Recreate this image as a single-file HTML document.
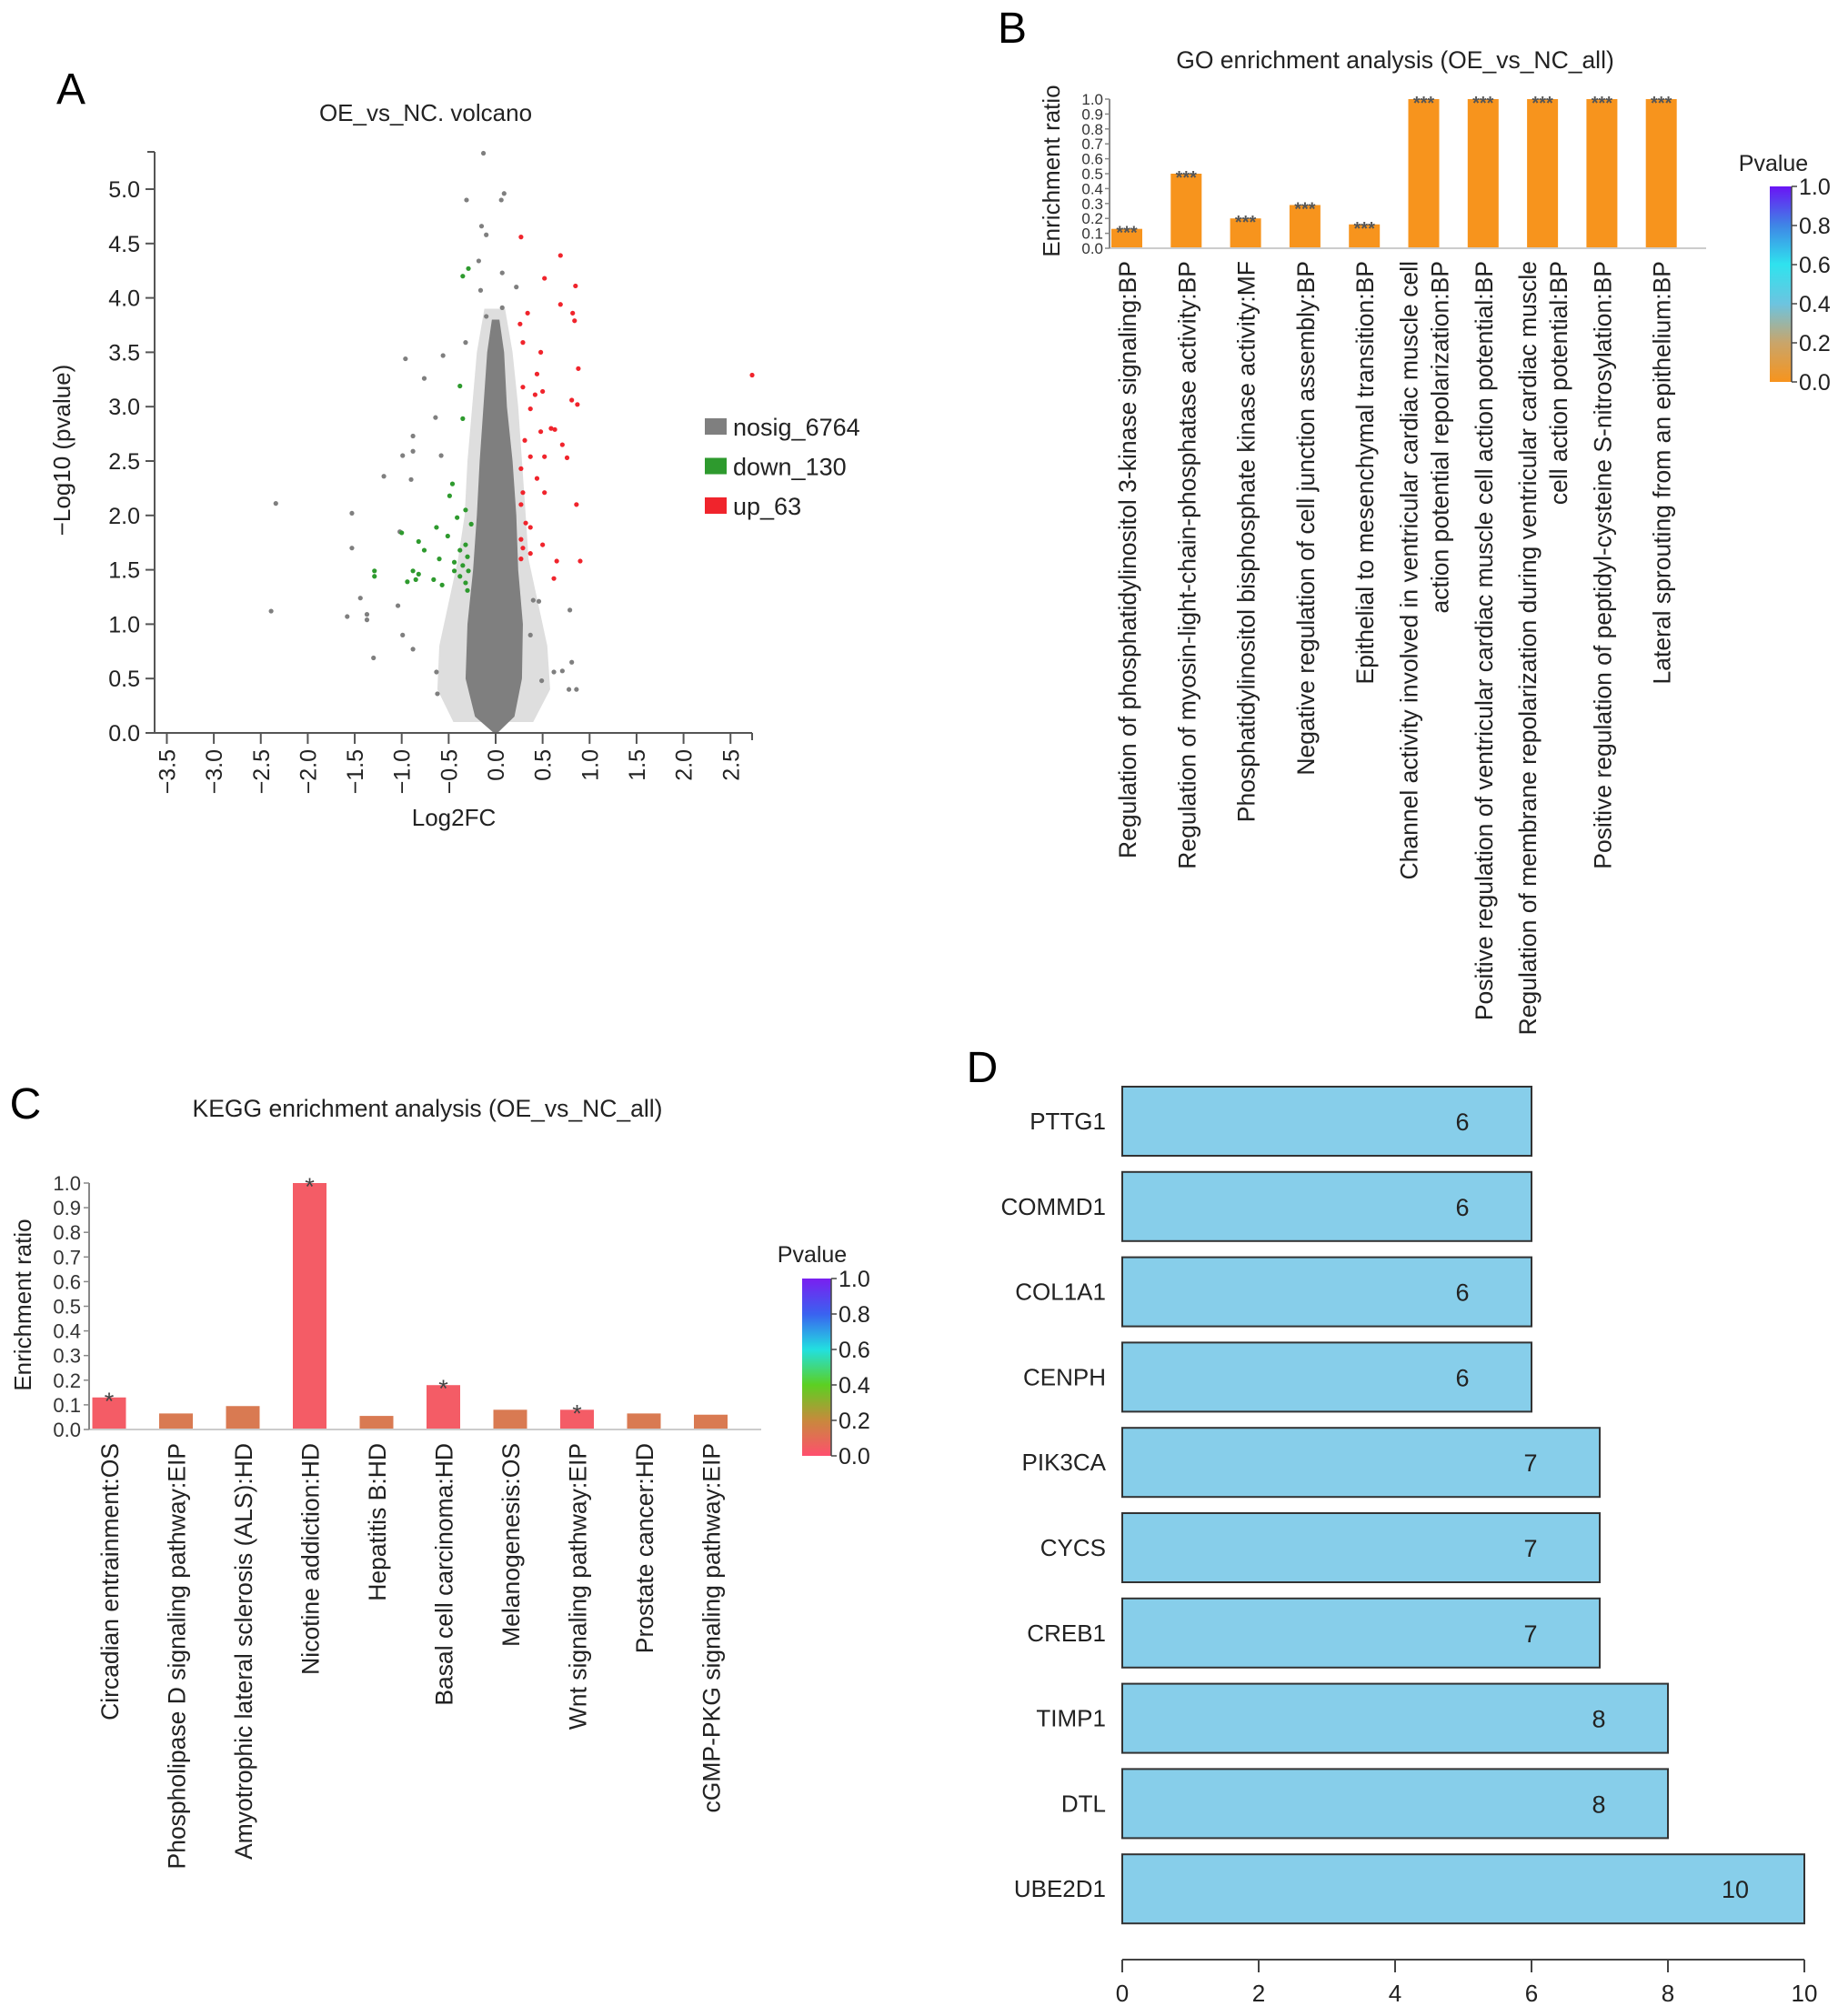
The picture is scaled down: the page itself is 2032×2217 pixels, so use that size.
<!DOCTYPE html>
<html><head><meta charset="utf-8"><style>
html,body{margin:0;padding:0;background:#fff}
svg{display:block;font-family:"Liberation Sans",Arial,sans-serif}
</style></head><body>
<svg id="fig" width="2032" height="2217" viewBox="0 0 2032 2217" xmlns="http://www.w3.org/2000/svg">
<defs>
<linearGradient id="gradB" x1="0" y1="1" x2="0" y2="0">
<stop offset="0" stop-color="#f7941d"/><stop offset="0.2" stop-color="#c9a56a"/><stop offset="0.4" stop-color="#6cc4e0"/><stop offset="0.6" stop-color="#2fe3ee"/><stop offset="0.8" stop-color="#3f86e6"/><stop offset="1" stop-color="#6a14f5"/>
</linearGradient>
<linearGradient id="gradC" x1="0" y1="1" x2="0" y2="0">
<stop offset="0" stop-color="#ff4f6e"/><stop offset="0.2" stop-color="#c8893c"/><stop offset="0.4" stop-color="#5cd022"/><stop offset="0.6" stop-color="#22e0e0"/><stop offset="0.8" stop-color="#3a62f0"/><stop offset="1" stop-color="#7a1ff0"/>
</linearGradient>
</defs>
</svg>
<script>
// ---------- Panel A data ----------
const upX=[0.27,0.69,0.52,0.85,0.69,0.34,0.26,0.82,0.84,0.29,0.48,0.88,0.44,0.29,0.5,0.42,0.81,0.87,0.37,0.59,0.63,0.31,0.48,0.71,0.37,0.52,0.76,0.27,0.44,0.29,0.52,0.27,0.86,0.32,0.37,0.27,0.5,0.29,0.37,0.27,0.65,0.9,0.62,2.73];
const upY=[4.56,4.39,4.18,4.11,3.94,3.86,3.76,3.86,3.79,3.59,3.5,3.35,3.3,3.18,3.14,3.11,3.06,3.02,2.98,2.8,2.79,2.69,2.77,2.65,2.54,2.54,2.53,2.43,2.34,2.21,2.21,2.1,2.1,1.93,1.89,1.78,1.73,1.7,1.65,1.6,1.58,1.58,1.42,3.29];
const downX=[-0.29,-0.35,-0.38,-0.35,-0.46,-0.49,-0.32,-0.41,-0.63,-0.26,-1.0,-0.82,-0.51,-0.32,-0.76,-0.38,-0.3,-0.6,-0.44,-0.35,-0.88,-0.82,-0.44,-1.29,-1.29,-0.94,-0.85,-0.66,-0.38,-0.32,-0.3,-0.57,-0.29];
const downY=[4.27,4.2,3.19,2.89,2.29,2.18,2.05,1.98,1.89,1.92,1.84,1.76,1.81,1.73,1.68,1.68,1.62,1.6,1.57,1.54,1.49,1.46,1.49,1.49,1.44,1.39,1.41,1.41,1.44,1.38,1.31,1.36,1.49];
const nosigX=[-0.13,-0.31,0.09,0.06,-0.15,-0.1,-0.18,0.07,-0.16,0.22,0.07,-0.1,-0.96,-0.56,-0.76,-0.32,-0.64,-0.88,-0.88,-0.99,-0.58,-1.19,-0.9,-2.34,-1.53,-1.53,-1.02,-1.44,-1.58,-1.37,-1.37,-2.39,-1.04,-0.99,-1.3,-0.88,-0.63,-0.62,0.79,0.4,0.46,0.81,0.78,0.86,0.62,0.49,0.37,0.71];
const nosigY=[5.33,4.9,4.96,4.9,4.66,4.58,4.34,4.23,4.07,4.1,3.91,3.83,3.44,3.47,3.26,3.59,2.9,2.73,2.59,2.55,2.55,2.36,2.33,2.11,2.02,1.7,1.85,1.24,1.07,1.09,1.04,1.12,1.17,0.9,0.69,0.77,0.56,0.36,1.13,1.22,1.21,0.65,0.4,0.4,0.56,0.48,0.9,0.57];
const coreLevels=[0,0.15,0.5,1.0,1.5,2.0,2.5,3.0,3.5,3.8];
const coreLeft=[-0.02,-0.22,-0.32,-0.3,-0.24,-0.2,-0.17,-0.13,-0.09,-0.04];
const coreRight=[0.02,0.2,0.28,0.29,0.24,0.22,0.18,0.12,0.09,0.04];
const haloLevels=[0.1,0.4,0.8,1.2,1.6,2.0,2.5,3.0,3.5,3.9];
const haloLeft=[-0.45,-0.62,-0.6,-0.5,-0.4,-0.33,-0.3,-0.25,-0.2,-0.12];
const haloRight=[0.4,0.58,0.55,0.45,0.35,0.32,0.28,0.24,0.18,0.1];
const volXTicks=["-3.5","-3.0","-2.5","-2.0","-1.5","-1.0","-0.5","0.0","0.5","1.0","1.5","2.0","2.5"];
const volYTicks=["0.0","0.5","1.0","1.5","2.0","2.5","3.0","3.5","4.0","4.5","5.0"];
const legendLabels=["nosig_6764","down_130","up_63"];
// ---------- Panel B data ----------
const goLabels=[["Regulation of phosphatidylinositol 3-kinase signaling:BP"],["Regulation of myosin-light-chain-phosphatase activity:BP"],["Phosphatidylinositol bisphosphate kinase activity:MF"],["Negative regulation of cell junction assembly:BP"],["Epithelial to mesenchymal transition:BP"],["Channel activity involved in ventricular cardiac muscle cell","action potential repolarization:BP"],["Positive regulation of ventricular cardiac muscle cell action potential:BP"],["Regulation of membrane repolarization during ventricular cardiac muscle","cell action potential:BP"],["Positive regulation of peptidyl-cysteine S-nitrosylation:BP"],["Lateral sprouting from an epithelium:BP"]];
const goValues=[0.13,0.5,0.2,0.29,0.16,1.0,1.0,1.0,1.0,1.0];
const goStars=["***","***","***","***","***","***","***","***","***","***"];
const ratioTicks=["0.0","0.1","0.2","0.3","0.4","0.5","0.6","0.7","0.8","0.9","1.0"];
const pTicks=["0.0","0.2","0.4","0.6","0.8","1.0"];
// ---------- Panel C data ----------
const keggLabels=["Circadian entrainment:OS","Phospholipase D signaling pathway:EIP","Amyotrophic lateral sclerosis (ALS):HD","Nicotine addiction:HD","Hepatitis B:HD","Basal cell carcinoma:HD","Melanogenesis:OS","Wnt signaling pathway:EIP","Prostate cancer:HD","cGMP-PKG signaling pathway:EIP"];
const keggValues=[0.13,0.065,0.095,1.0,0.055,0.18,0.08,0.08,0.065,0.06];
const keggP=[0.01,0.12,0.12,0.01,0.12,0.01,0.12,0.02,0.12,0.12];
const keggStars=["*","","","*","","*","","*","",""];
// ---------- Panel D data ----------
const genes=["PTTG1","COMMD1","COL1A1","CENPH","PIK3CA","CYCS","CREB1","TIMP1","DTL","UBE2D1"];
const degree=[6,6,6,6,7,7,7,8,8,10];
const degTicks=[0,2,4,6,8,10];

const svg=document.getElementById('fig');
const NS='http://www.w3.org/2000/svg';
function mk(tag,attrs,parent,text){const e=document.createElementNS(NS,tag);for(const k in attrs)e.setAttribute(k,attrs[k]);if(text!==undefined)e.textContent=text;(parent||svg).appendChild(e);return e;}
function grp(name){const g=mk('g',{});


return g;}

// ================= Panel A =================
const gA=grp('panel-a-volcano');
const vx=v=>545+103.3*v, vy=v=>806-119.6*v;
let t=mk('text',{x:78,y:114,'font-size':48,'text-anchor':'middle',fill:'#000'},gA,'A');

t=mk('text',{x:468,y:133,'font-size':26,'text-anchor':'middle',fill:'#222'},gA,'OE_vs_NC. volcano');

function env(levels,L,R){let pts=[];for(let i=0;i<levels.length;i++)pts.push(vx(L[i])+','+vy(levels[i]));for(let i=levels.length-1;i>=0;i--)pts.push(vx(R[i])+','+vy(levels[i]));return pts.join(' ');}
let p=mk('polygon',{points:env(haloLevels,haloLeft,haloRight),fill:'#8a8a8a','fill-opacity':0.28},gA);

p=mk('polygon',{points:env(coreLevels,coreLeft,coreRight),fill:'#7f7f7f'},gA);

function pts(X,Y,col,name){for(let i=0;i<X.length;i++){const c=mk('circle',{cx:vx(X[i]),cy:vy(Y[i]),r:2.6,fill:col},gA);

}}
pts(nosigX,nosigY,'#7f7f7f','nosig-point');
pts(downX,downY,'#2e9a2e','down-point');
pts(upX,upY,'#f0242c','up-point');
mk('line',{x1:170,y1:167,x2:170,y2:806,stroke:'#555','stroke-width':2},gA);
mk('line',{x1:170,y1:806,x2:827,y2:806,stroke:'#555','stroke-width':2},gA);
mk('line',{x1:162,y1:167,x2:170,y2:167,stroke:'#555','stroke-width':2},gA);
mk('line',{x1:827,y1:806,x2:827,y2:814,stroke:'#555','stroke-width':2},gA);
volYTicks.forEach(s=>{const y=vy(parseFloat(s));mk('line',{x1:160,y1:y,x2:170,y2:y,stroke:'#555','stroke-width':2},gA);
const tt=mk('text',{x:154,y:y+9,'font-size':25,'text-anchor':'end',fill:'#222'},gA,s);

});
volXTicks.forEach(s=>{const x=vx(parseFloat(s));mk('line',{x1:x,y1:806,x2:x,y2:818,stroke:'#555','stroke-width':2},gA);
const tt=mk('text',{x:0,y:0,'font-size':25,'text-anchor':'end',fill:'#222',transform:`translate(${x+9},824) rotate(-90)`},gA,s.replace('-','\u2212'));

});
t=mk('text',{x:0,y:0,'font-size':26,'text-anchor':'middle',fill:'#222',transform:'translate(77,495) rotate(-90)'},gA,'\u2212Log10 (pvalue)');

t=mk('text',{x:499,y:908,'font-size':26,'text-anchor':'middle',fill:'#222'},gA,'Log2FC');

const legCols=['#7f7f7f','#2e9a2e','#f0242c'];
legendLabels.forEach((s,i)=>{const y=469+i*43.5;
const r=mk('rect',{x:775,y:y-9,width:24,height:18,fill:legCols[i]},gA);


const tt=mk('text',{x:806,y:y+10,'font-size':27,fill:'#222'},gA,s);

});

// ================= Panel B =================
const gB=grp('panel-b-go-enrichment');
const bx0=1220,bxEnd=1876,by0=273,by1=109,bStep=65.3,bFirst=1239,bW=34;
const byS=v=>by0-(by0-by1)*v;
t=mk('text',{x:1113,y:47,'font-size':48,'text-anchor':'middle',fill:'#000'},gB,'B');

t=mk('text',{x:1534,y:75,'font-size':26.5,'text-anchor':'middle',fill:'#222'},gB,'GO enrichment analysis (OE_vs_NC_all)');

goValues.forEach((v,i)=>{const cx=bFirst+i*bStep;
const r=mk('rect',{x:cx-bW/2,y:byS(v),width:bW,height:by0-byS(v),fill:'#f7941d'},gB);


const s=mk('text',{x:cx,y:byS(v)+11,'font-size':20,'text-anchor':'middle',fill:'#555','font-weight':'bold'},gB,goStars[i]);


const lines=goLabels[i];const n=lines.length;
lines.forEach((ln,j)=>{const off=(j-(n-1)/2)*34;
const tt=mk('text',{x:0,y:0,'font-size':26.5,'text-anchor':'end',fill:'#222',transform:`translate(${cx+off+10},287) rotate(-90)`},gB,ln);

});});
mk('line',{x1:bx0,y1:by0,x2:bxEnd,y2:by0,stroke:'#ccc','stroke-width':2},gB);
mk('line',{x1:bx0,y1:by1,x2:bx0,y2:by0,stroke:'#888','stroke-width':2},gB);
ratioTicks.forEach(s=>{const y=byS(parseFloat(s));mk('line',{x1:bx0-5,y1:y,x2:bx0,y2:y,stroke:'#888','stroke-width':1.5},gB);
const tt=mk('text',{x:bx0-7,y:y+6,'font-size':17,'text-anchor':'end',fill:'#333'},gB,s);

});
t=mk('text',{x:0,y:0,'font-size':26,'text-anchor':'middle',fill:'#222',transform:'translate(1165,188) rotate(-90)'},gB,'Enrichment ratio');

const cbB={x:1946,w:24,top:205,bot:420};
let cb=mk('rect',{x:cbB.x,y:cbB.top,width:cbB.w,height:cbB.bot-cbB.top,fill:'url(#gradB)'},gB);

mk('line',{x1:cbB.x+cbB.w,y1:cbB.top,x2:cbB.x+cbB.w,y2:cbB.bot,stroke:'#444','stroke-width':1.5},gB);
pTicks.forEach(s=>{const y=cbB.bot-(cbB.bot-cbB.top)*parseFloat(s);mk('line',{x1:cbB.x+cbB.w,y1:y,x2:cbB.x+cbB.w+6,y2:y,stroke:'#444','stroke-width':1.5},gB);
const tt=mk('text',{x:cbB.x+cbB.w+8,y:y+9,'font-size':25,fill:'#222'},gB,s);

});
t=mk('text',{x:1950,y:188,'font-size':25,'text-anchor':'middle',fill:'#222'},gB,'Pvalue');


// ================= Panel C =================
const gC=grp('panel-c-kegg-enrichment');
const cx0=98,cxEnd=837,cy0=1572,cy1=1301,cStep=73.5,cFirst=120,cW=37;
const cyS=v=>cy0-(cy0-cy1)*v;
t=mk('text',{x:28,y:1230,'font-size':48,'text-anchor':'middle',fill:'#000'},gC,'C');

t=mk('text',{x:470,y:1228,'font-size':26.5,'text-anchor':'middle',fill:'#222'},gC,'KEGG enrichment analysis (OE_vs_NC_all)');

keggValues.forEach((v,i)=>{const cx=cFirst+i*cStep;const col=keggP[i]<0.05?'#f45c66':'#d97a52';
const r=mk('rect',{x:cx-cW/2,y:cyS(v),width:cW,height:cy0-cyS(v),fill:col},gC);


if(keggStars[i]){const s=mk('text',{x:cx,y:cyS(v)+13,'font-size':27,'text-anchor':'middle',fill:'#444'},gC,keggStars[i]);

}
const tt=mk('text',{x:0,y:0,'font-size':26.5,'text-anchor':'end',fill:'#222',transform:`translate(${cx+10},1587) rotate(-90)`},gC,keggLabels[i]);

});
mk('line',{x1:cx0,y1:cy0,x2:cxEnd,y2:cy0,stroke:'#ccc','stroke-width':2},gC);
mk('line',{x1:cx0,y1:cy1,x2:cx0,y2:cy0,stroke:'#888','stroke-width':2},gC);
ratioTicks.forEach(s=>{const y=cyS(parseFloat(s));mk('line',{x1:cx0-6,y1:y,x2:cx0,y2:y,stroke:'#888','stroke-width':1.5},gC);
const tt=mk('text',{x:cx0-9,y:y+8,'font-size':22,'text-anchor':'end',fill:'#333'},gC,s);

});
t=mk('text',{x:0,y:0,'font-size':26,'text-anchor':'middle',fill:'#222',transform:'translate(34,1435) rotate(-90)'},gC,'Enrichment ratio');

const cbC={x:882,w:32,top:1406,bot:1601};
cb=mk('rect',{x:cbC.x,y:cbC.top,width:cbC.w,height:cbC.bot-cbC.top,fill:'url(#gradC)'},gC);

mk('line',{x1:cbC.x+cbC.w,y1:cbC.top,x2:cbC.x+cbC.w,y2:cbC.bot,stroke:'#444','stroke-width':1.5},gC);
pTicks.forEach(s=>{const y=cbC.bot-(cbC.bot-cbC.top)*parseFloat(s);mk('line',{x1:cbC.x+cbC.w,y1:y,x2:cbC.x+cbC.w+6,y2:y,stroke:'#444','stroke-width':1.5},gC);
const tt=mk('text',{x:cbC.x+cbC.w+8,y:y+9,'font-size':25,fill:'#222'},gC,s);

});
t=mk('text',{x:893,y:1388,'font-size':25,'text-anchor':'middle',fill:'#222'},gC,'Pvalue');


// ================= Panel D =================
const gD=grp('panel-d-hub-genes');
const dx0=1234,dUnit=75.0,dTop=1195,dStep=93.8,dH=76,dAxisY=2155;
const dxS=v=>dx0+dUnit*v;
t=mk('text',{x:1080,y:1190,'font-size':48,'text-anchor':'middle',fill:'#000'},gD,'D');

genes.forEach((g,i)=>{const y=dTop+i*dStep;
const r=mk('rect',{x:dx0,y:y,width:dxS(degree[i])-dx0,height:dH,fill:'#87ceea',stroke:'#333','stroke-width':2},gD);


const v=mk('text',{x:dxS(degree[i])-76,y:y+dH/2+10,'font-size':27,'text-anchor':'middle',fill:'#222'},gD,String(degree[i]));


const l=mk('text',{x:1216,y:y+dH/2+9,'font-size':26,'text-anchor':'end',fill:'#222'},gD,g);

});
mk('line',{x1:dx0,y1:dAxisY,x2:dxS(10),y2:dAxisY,stroke:'#444','stroke-width':2},gD);
degTicks.forEach(d=>{const x=dxS(d);mk('line',{x1:x,y1:dAxisY,x2:x,y2:dAxisY+14,stroke:'#444','stroke-width':2},gD);
const tt=mk('text',{x:x,y:dAxisY+46,'font-size':26,'text-anchor':'middle',fill:'#222'},gD,String(d));

});
</script>
</body></html>
